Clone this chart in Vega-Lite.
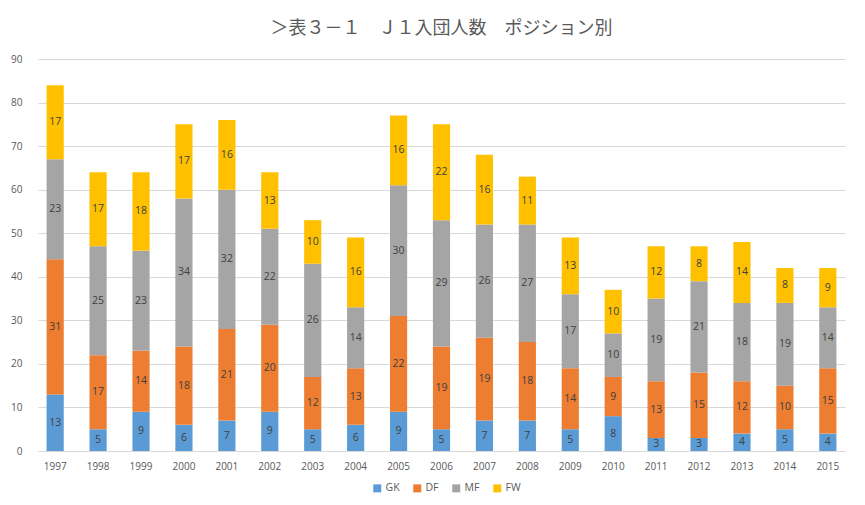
{
  "$schema": "https://vega.github.io/schema/vega-lite/v6.json",
  "width": 807,
  "height": 392,
  "autosize": {"type": "none"},
  "padding": {"left": 38, "top": 59, "right": 20, "bottom": 54},
  "background": "white",
  "title": {
    "text": "＞表３－１　Ｊ１入団人数　ポジション別",
    "font": "Noto Sans CJK JP",
    "fontSize": 18,
    "fontWeight": "normal",
    "color": "#595959",
    "anchor": "middle",
    "offset": 16
  },
  "config": {
    "view": {"stroke": null},
    "font": "Open Sans"
  },
  "data": {
    "values": [
      {"year": "1997", "pos": "GK", "n": 13, "ord": 1}, {"year": "1997", "pos": "DF", "n": 31, "ord": 2}, {"year": "1997", "pos": "MF", "n": 23, "ord": 3}, {"year": "1997", "pos": "FW", "n": 17, "ord": 4},
      {"year": "1998", "pos": "GK", "n": 5, "ord": 1}, {"year": "1998", "pos": "DF", "n": 17, "ord": 2}, {"year": "1998", "pos": "MF", "n": 25, "ord": 3}, {"year": "1998", "pos": "FW", "n": 17, "ord": 4},
      {"year": "1999", "pos": "GK", "n": 9, "ord": 1}, {"year": "1999", "pos": "DF", "n": 14, "ord": 2}, {"year": "1999", "pos": "MF", "n": 23, "ord": 3}, {"year": "1999", "pos": "FW", "n": 18, "ord": 4},
      {"year": "2000", "pos": "GK", "n": 6, "ord": 1}, {"year": "2000", "pos": "DF", "n": 18, "ord": 2}, {"year": "2000", "pos": "MF", "n": 34, "ord": 3}, {"year": "2000", "pos": "FW", "n": 17, "ord": 4},
      {"year": "2001", "pos": "GK", "n": 7, "ord": 1}, {"year": "2001", "pos": "DF", "n": 21, "ord": 2}, {"year": "2001", "pos": "MF", "n": 32, "ord": 3}, {"year": "2001", "pos": "FW", "n": 16, "ord": 4},
      {"year": "2002", "pos": "GK", "n": 9, "ord": 1}, {"year": "2002", "pos": "DF", "n": 20, "ord": 2}, {"year": "2002", "pos": "MF", "n": 22, "ord": 3}, {"year": "2002", "pos": "FW", "n": 13, "ord": 4},
      {"year": "2003", "pos": "GK", "n": 5, "ord": 1}, {"year": "2003", "pos": "DF", "n": 12, "ord": 2}, {"year": "2003", "pos": "MF", "n": 26, "ord": 3}, {"year": "2003", "pos": "FW", "n": 10, "ord": 4},
      {"year": "2004", "pos": "GK", "n": 6, "ord": 1}, {"year": "2004", "pos": "DF", "n": 13, "ord": 2}, {"year": "2004", "pos": "MF", "n": 14, "ord": 3}, {"year": "2004", "pos": "FW", "n": 16, "ord": 4},
      {"year": "2005", "pos": "GK", "n": 9, "ord": 1}, {"year": "2005", "pos": "DF", "n": 22, "ord": 2}, {"year": "2005", "pos": "MF", "n": 30, "ord": 3}, {"year": "2005", "pos": "FW", "n": 16, "ord": 4},
      {"year": "2006", "pos": "GK", "n": 5, "ord": 1}, {"year": "2006", "pos": "DF", "n": 19, "ord": 2}, {"year": "2006", "pos": "MF", "n": 29, "ord": 3}, {"year": "2006", "pos": "FW", "n": 22, "ord": 4},
      {"year": "2007", "pos": "GK", "n": 7, "ord": 1}, {"year": "2007", "pos": "DF", "n": 19, "ord": 2}, {"year": "2007", "pos": "MF", "n": 26, "ord": 3}, {"year": "2007", "pos": "FW", "n": 16, "ord": 4},
      {"year": "2008", "pos": "GK", "n": 7, "ord": 1}, {"year": "2008", "pos": "DF", "n": 18, "ord": 2}, {"year": "2008", "pos": "MF", "n": 27, "ord": 3}, {"year": "2008", "pos": "FW", "n": 11, "ord": 4},
      {"year": "2009", "pos": "GK", "n": 5, "ord": 1}, {"year": "2009", "pos": "DF", "n": 14, "ord": 2}, {"year": "2009", "pos": "MF", "n": 17, "ord": 3}, {"year": "2009", "pos": "FW", "n": 13, "ord": 4},
      {"year": "2010", "pos": "GK", "n": 8, "ord": 1}, {"year": "2010", "pos": "DF", "n": 9, "ord": 2}, {"year": "2010", "pos": "MF", "n": 10, "ord": 3}, {"year": "2010", "pos": "FW", "n": 10, "ord": 4},
      {"year": "2011", "pos": "GK", "n": 3, "ord": 1}, {"year": "2011", "pos": "DF", "n": 13, "ord": 2}, {"year": "2011", "pos": "MF", "n": 19, "ord": 3}, {"year": "2011", "pos": "FW", "n": 12, "ord": 4},
      {"year": "2012", "pos": "GK", "n": 3, "ord": 1}, {"year": "2012", "pos": "DF", "n": 15, "ord": 2}, {"year": "2012", "pos": "MF", "n": 21, "ord": 3}, {"year": "2012", "pos": "FW", "n": 8, "ord": 4},
      {"year": "2013", "pos": "GK", "n": 4, "ord": 1}, {"year": "2013", "pos": "DF", "n": 12, "ord": 2}, {"year": "2013", "pos": "MF", "n": 18, "ord": 3}, {"year": "2013", "pos": "FW", "n": 14, "ord": 4},
      {"year": "2014", "pos": "GK", "n": 5, "ord": 1}, {"year": "2014", "pos": "DF", "n": 10, "ord": 2}, {"year": "2014", "pos": "MF", "n": 19, "ord": 3}, {"year": "2014", "pos": "FW", "n": 8, "ord": 4},
      {"year": "2015", "pos": "GK", "n": 4, "ord": 1}, {"year": "2015", "pos": "DF", "n": 15, "ord": 2}, {"year": "2015", "pos": "MF", "n": 14, "ord": 3}, {"year": "2015", "pos": "FW", "n": 9, "ord": 4}
    ]
  },
  "encoding": {
    "x": {
      "field": "year",
      "type": "ordinal",
      "scale": {"paddingInner": 0.6, "paddingOuter": 0.2},
      "axis": {
        "title": null,
        "labelAngle": 0,
        "ticks": false,
        "domainColor": "#d9d9d9",
        "labelColor": "#595959",
        "labelFont": "Open Sans",
        "labelFontSize": 10,
        "labelPadding": 10
      }
    },
    "y": {
      "field": "n",
      "type": "quantitative",
      "stack": "zero",
      "scale": {"domain": [0, 90], "nice": false},
      "axis": {
        "title": null,
        "values": [0, 10, 20, 30, 40, 50, 60, 70, 80, 90],
        "domain": false,
        "ticks": false,
        "gridColor": "#d9d9d9",
        "labelColor": "#595959",
        "labelFont": "Open Sans",
        "labelFontSize": 10,
        "labelPadding": 16
      }
    },
    "order": {"field": "ord", "type": "quantitative"}
  },
  "layer": [
    {
      "mark": {"type": "bar"},
      "encoding": {
        "color": {
          "field": "pos",
          "type": "nominal",
          "scale": {"domain": ["GK", "DF", "MF", "FW"], "range": ["#5B9BD5", "#ED7D31", "#A5A5A5", "#FFC000"]},
          "legend": {
            "title": null,
            "orient": "none",
            "legendX": 334,
            "legendY": 424,
            "direction": "horizontal",
            "symbolType": "square",
            "symbolSize": 64,
            "symbolStrokeWidth": 0,
            "labelColor": "#595959",
            "labelFont": "Open Sans",
            "labelFontSize": 10.5,
            "labelOffset": 3,
            "columnPadding": 12
          }
        }
      }
    },
    {
      "mark": {"type": "text", "color": "#404040", "font": "Open Sans", "fontSize": 10.5},
      "encoding": {
        "y": {"field": "n", "type": "quantitative", "stack": "zero", "bandPosition": 0.5},
        "text": {"field": "n", "type": "quantitative"}
      }
    }
  ]
}
